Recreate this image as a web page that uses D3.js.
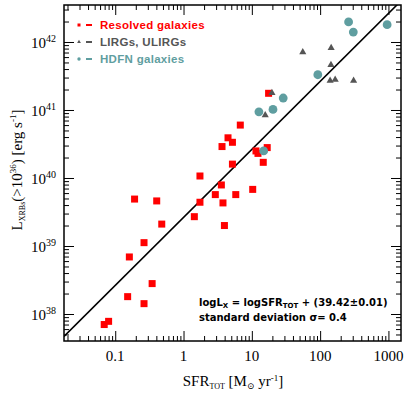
<!DOCTYPE html>
<html>
<head>
<meta charset="utf-8">
<script src="https://cdn.jsdelivr.net/npm/d3@7"></script>
<style>
  body { margin: 0; background: #fff; }
  .serif { font-family: 'Liberation Serif', 'DejaVu Serif', serif; }
  .bold { font-family: 'Liberation Sans', Arial, sans-serif; font-weight: bold; }
  .ann { font-family: 'DejaVu Sans', sans-serif; font-weight: bold; }
</style>
</head>
<body>
<main></main>
<script>
// Pre define necessary variables
const w = 416;
const h = 393;
const plot = { left: 64, right: 401, top: 5, bottom: 341 };

// Resolved galaxies (SFR in Msun/yr, L_XRB in erg/s)
const resolvedSfr = [0.069, 0.080, 0.152, 0.161, 0.192, 0.264, 0.264, 0.347, 0.405, 0.480,
  1.44, 1.74, 1.74, 2.92, 3.58, 3.66, 3.78, 3.97, 4.48, 5.2, 5.2, 5.82, 6.78, 10.3,
  11.5, 12.3, 14.7, 16.8, 17.6];
const resolvedLx = [7.0e37, 7.8e37, 1.8e38, 6.9e38, 4.9e39, 1.12e39, 1.42e38, 2.8e38, 4.6e39, 2.1e39,
  2.7e39, 1.07e40, 4.4e39, 5.7e39, 7.9e39, 2.9e40, 4.3e39, 2.0e39, 3.9e40, 3.35e40, 1.6e40, 5.7e39, 6.0e40, 6.8e39,
  2.5e40, 2.3e40, 1.7e40, 2.8e40, 1.76e41];

// LIRGs, ULIRGs
const lirgSfr = [15.7, 19.7, 55.7, 145, 144, 140, 166, 309];
const lirgLx = [8.4e40, 1.78e41, 7.1e41, 8.2e41, 4.6e41, 2.7e41, 2.8e41, 2.7e41];

// HDFN galaxies
const hdfnSfr = [14.9, 12.7, 20.4, 28.8, 92.5, 261, 306, 957];
const hdfnLx = [2.5e40, 9.4e40, 1.02e41, 1.5e41, 3.3e41, 1.97e42, 1.4e42, 1.8e42];

// fit: logLx = logSFR + 39.42
const fitSlope = 1;
const fitIntercept = 39.42;

const xMajor = [0.1, 1, 10, 100, 1000];
const xMajorLabels = ['0.1', '1', '10', '100', '1000'];
const yMajor = [1e38, 1e39, 1e40, 1e41, 1e42];
const yMajorExp = ['38', '39', '40', '41', '42'];

const red = '#ff0000';
const grey = '#555555';
const teal = '#5f9ea0';

const x = d3.scaleLog()
  .domain([Math.pow(10, -1.75), Math.pow(10, 3.184)])
  .range([plot.left, plot.right]);
const y = d3.scaleLog()
  .domain([Math.pow(10, 37.603), Math.pow(10, 42.544)])
  .range([plot.bottom, plot.top]);

function minorTicks(scale) {
  const [a, b] = scale.domain();
  const out = [];
  for (let e = Math.floor(Math.log10(a)); e <= Math.ceil(Math.log10(b)); e++) {
    for (let k = 2; k <= 9; k++) {
      const v = k * Math.pow(10, e);
      if (v > a && v < b) out.push(v);
    }
  }
  return out;
}

const svg = d3.select('main').append('svg').attr('width', w).attr('height', h);

svg.append('defs').append('clipPath').attr('id', 'clip')
  .append('rect')
  .attr('x', plot.left).attr('y', plot.top)
  .attr('width', plot.right - plot.left).attr('height', plot.bottom - plot.top);

// axes (ticks pointing inward, mirrored on top/right)
function styleAxis(g) {
  g.select('.domain').remove();
  g.selectAll('.tick line').attr('stroke', '#000').attr('stroke-width', 1);
}

const axes = [
  [d3.axisBottom(x), `translate(0,${plot.bottom})`, xMajor, minorTicks(x)],
  [d3.axisTop(x), `translate(0,${plot.top})`, xMajor, minorTicks(x)],
  [d3.axisLeft(y), `translate(${plot.left},0)`, yMajor, minorTicks(y)],
  [d3.axisRight(y), `translate(${plot.right},0)`, yMajor, minorTicks(y)],
];
axes.forEach(([axis, tr, major, minor]) => {
  svg.append('g').attr('transform', tr)
    .call(axis.tickValues(major).tickSizeInner(-10).tickSizeOuter(0).tickFormat(''))
    .call(styleAxis);
  svg.append('g').attr('transform', tr)
    .call(axis.tickValues(minor).tickSizeInner(-5).tickSizeOuter(0).tickFormat(''))
    .call(styleAxis);
});

// tick labels
svg.append('g').selectAll('text')
  .data(xMajor)
  .enter()
  .append('text')
  .attr('class', 'serif')
  .attr('x', (d) => x(d))
  .attr('y', 361)
  .attr('text-anchor', 'middle')
  .style('font-size', '15px')
  .text((d, i) => xMajorLabels[i]);

const yLab = svg.append('g').selectAll('text')
  .data(yMajor)
  .enter()
  .append('text')
  .attr('class', 'serif')
  .attr('x', 56)
  .attr('y', (d) => y(d) + 6)
  .attr('text-anchor', 'end')
  .style('font-size', '15px');
yLab.append('tspan').text('10');
yLab.append('tspan').attr('dy', -6).style('font-size', '10px').text((d, i) => yMajorExp[i]);

// frame
svg.append('rect')
  .attr('x', plot.left).attr('y', plot.top)
  .attr('width', plot.right - plot.left).attr('height', plot.bottom - plot.top)
  .attr('fill', 'none').attr('stroke', '#000').attr('stroke-width', 1.5);

// fit line
const fitX = x.domain();
svg.append('line')
  .attr('clip-path', 'url(#clip)')
  .attr('x1', x(fitX[0])).attr('y1', y(Math.pow(10, fitSlope * Math.log10(fitX[0]) + fitIntercept)))
  .attr('x2', x(fitX[1])).attr('y2', y(Math.pow(10, fitSlope * Math.log10(fitX[1]) + fitIntercept)))
  .attr('stroke', '#000').attr('stroke-width', 1.6);

// points
const pts = svg.append('g').attr('clip-path', 'url(#clip)');
pts.selectAll('rect.res')
  .data(d3.zip(resolvedSfr, resolvedLx))
  .enter()
  .append('rect')
  .attr('class', 'res')
  .attr('x', (d) => x(d[0]) - 3.5)
  .attr('y', (d) => y(d[1]) - 3.5)
  .attr('width', 7).attr('height', 7)
  .attr('fill', red);

pts.selectAll('path.lirg')
  .data(d3.zip(lirgSfr, lirgLx))
  .enter()
  .append('path')
  .attr('class', 'lirg')
  .attr('d', d3.symbol(d3.symbolTriangle, 22))
  .attr('transform', (d) => `translate(${x(d[0])},${y(d[1])})`)
  .attr('fill', grey);

pts.selectAll('circle.hdfn')
  .data(d3.zip(hdfnSfr, hdfnLx))
  .enter()
  .append('circle')
  .attr('class', 'hdfn')
  .attr('cx', (d) => x(d[0]))
  .attr('cy', (d) => y(d[1]))
  .attr('r', 4.4)
  .attr('fill', teal);

// legend
const legend = [
  { label: 'Resolved galaxies', color: red, shape: 'square' },
  { label: 'LIRGs, ULIRGs', color: grey, shape: 'triangle' },
  { label: 'HDFN galaxies', color: teal, shape: 'circle' },
];
const lg = svg.append('g').selectAll('g')
  .data(legend)
  .enter()
  .append('g')
  .attr('transform', (d, i) => `translate(79,${25 + i * 17})`);
lg.each(function (d) {
  const g = d3.select(this);
  if (d.shape === 'square') g.append('rect').attr('x', -1.5).attr('y', -1.5).attr('width', 3).attr('height', 3).attr('fill', d.color);
  if (d.shape === 'triangle') g.append('path').attr('d', d3.symbol(d3.symbolTriangle, 6)).attr('fill', d.color);
  if (d.shape === 'circle') g.append('circle').attr('r', 1.7).attr('fill', d.color);
});
lg.append('line')
  .attr('x1', 7).attr('x2', 13).attr('y1', 0).attr('y2', 0)
  .attr('stroke', (d) => d.color).attr('stroke-width', 2);
lg.append('text')
  .attr('class', 'bold')
  .attr('x', 21)
  .attr('y', 4)
  .style('font-size', '11.5px')
  .style('letter-spacing', '0.3px')
  .attr('fill', (d) => d.color)
  .text((d) => d.label);

// annotation
const ann = svg.append('text').attr('class', 'ann').attr('x', 199).attr('y', 306).style('font-size', '10px');
ann.append('tspan').text('logL');
ann.append('tspan').attr('dy', 2).style('font-size', '7px').text('X');
ann.append('tspan').attr('dy', -2).text(' = logSFR');
ann.append('tspan').attr('dy', 2).style('font-size', '7px').text('TOT');
ann.append('tspan').attr('dy', -2).text(' + (39.42\u00b10.01)');
svg.append('text').attr('class', 'ann').attr('x', 199).attr('y', 321).style('font-size', '10px')
  .text('standard deviation \u03c3= 0.4');

// axis titles
const xt = svg.append('text').attr('class', 'serif').attr('x', 233).attr('y', 386)
  .attr('text-anchor', 'middle').style('font-size', '15px');
xt.append('tspan').text('SFR');
xt.append('tspan').attr('dy', 3).style('font-size', '8px').text('TOT');
xt.append('tspan').attr('dy', -3).text(' [M');
xt.append('tspan').attr('dy', 3).style('font-size', '9px').text('\u2299');
xt.append('tspan').attr('dy', -3).text(' yr');
xt.append('tspan').attr('dy', -5).style('font-size', '9px').text('-1');
xt.append('tspan').attr('dy', 5).text(']');

const yt = svg.append('text').attr('class', 'serif')
  .attr('transform', 'translate(22,170) rotate(-90)')
  .attr('text-anchor', 'middle').style('font-size', '15px');
yt.append('tspan').text('L');
yt.append('tspan').attr('dy', 3).style('font-size', '8px').text('XRBs');
yt.append('tspan').attr('dy', -3).text('(>10');
yt.append('tspan').attr('dy', -6).style('font-size', '9px').text('36');
yt.append('tspan').attr('dy', 6).text(') [erg s');
yt.append('tspan').attr('dy', -6).style('font-size', '9px').text('-1');
yt.append('tspan').attr('dy', 6).text(']');
</script>
</body>
</html>
